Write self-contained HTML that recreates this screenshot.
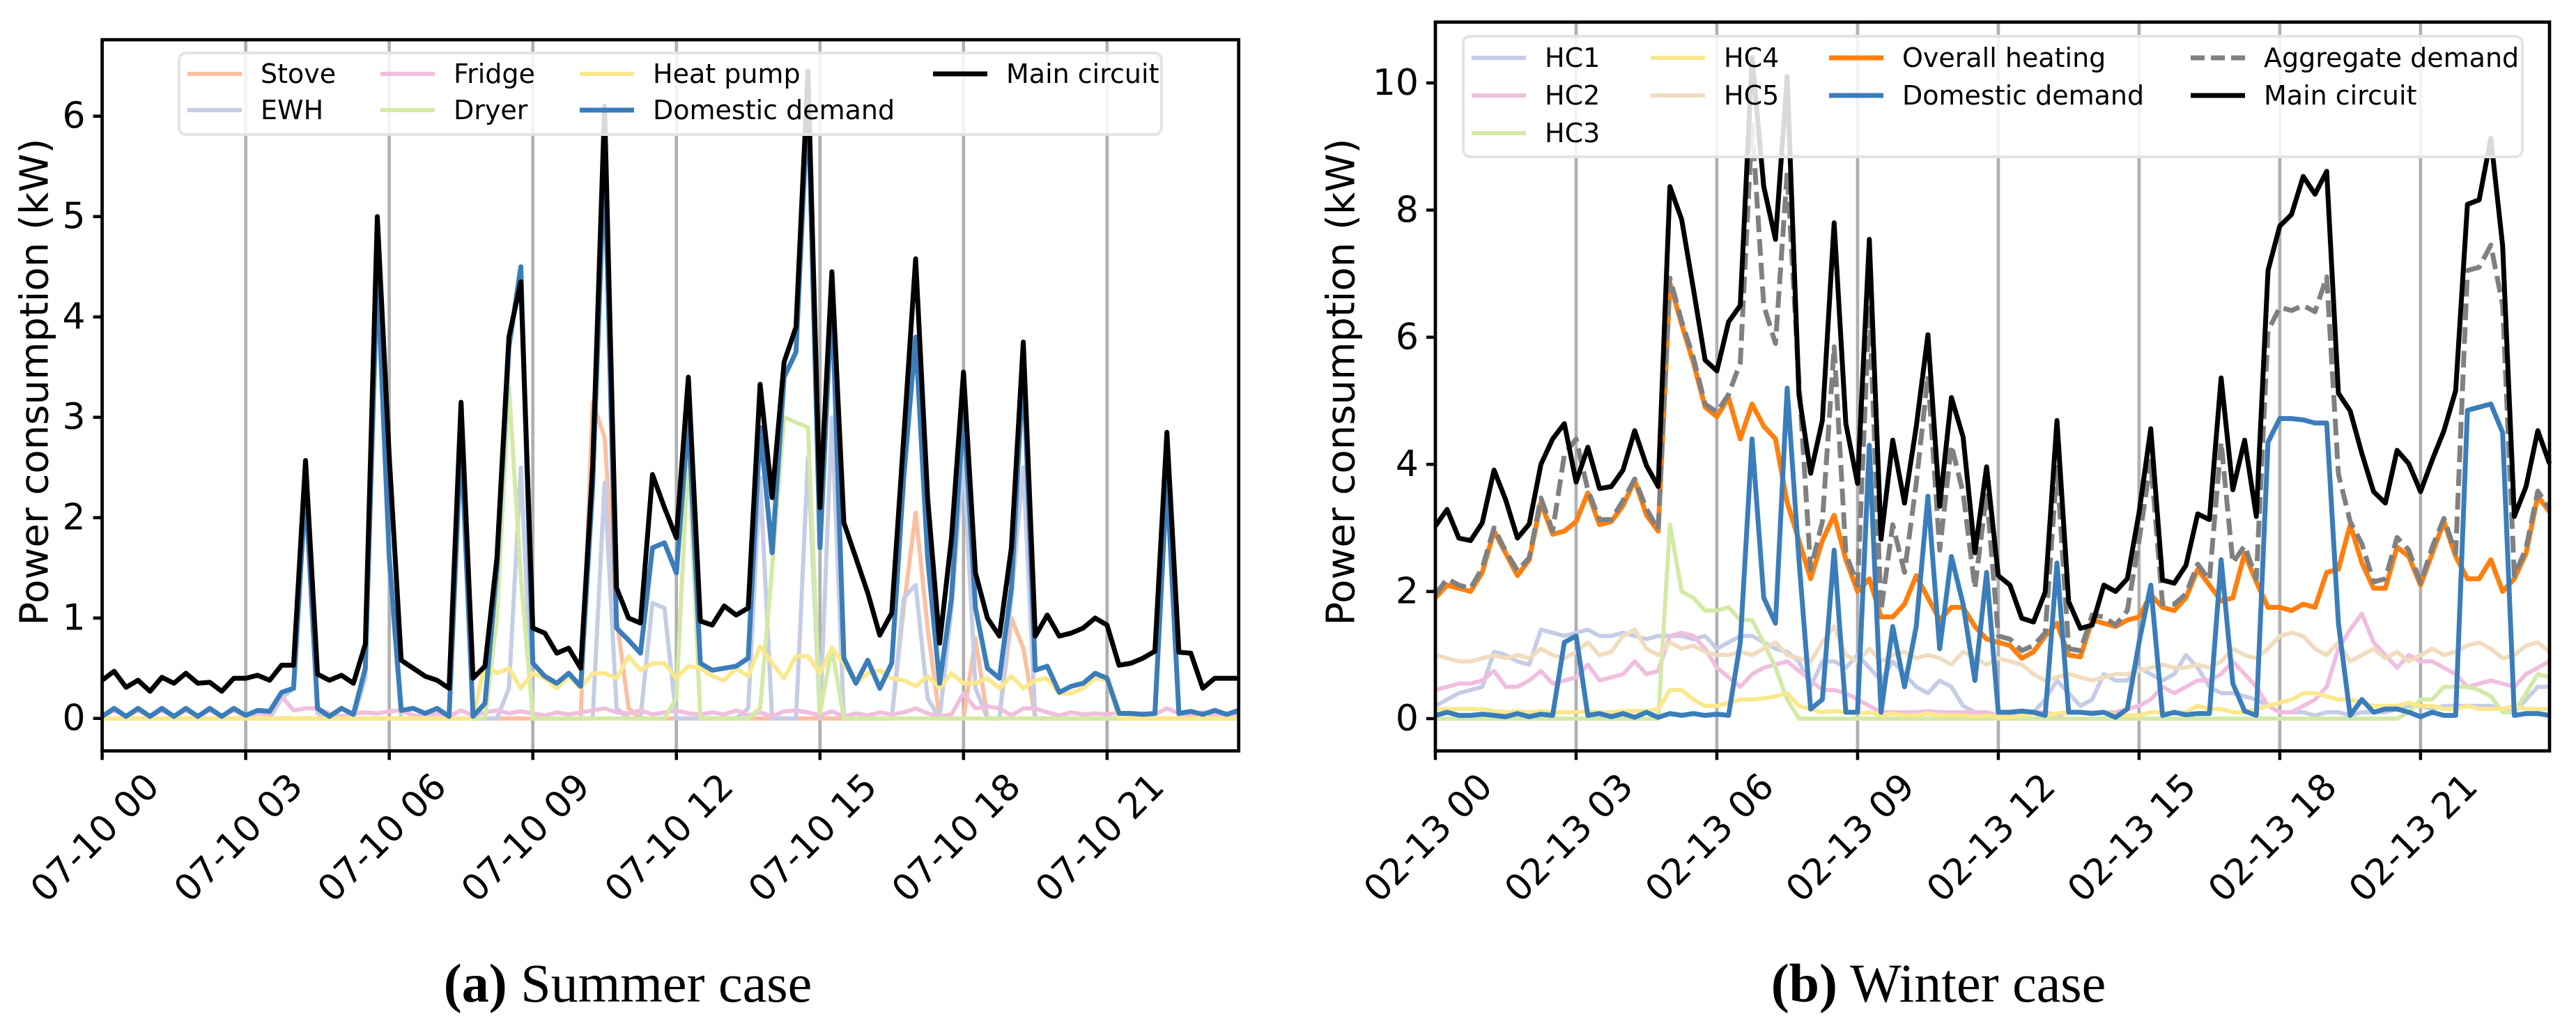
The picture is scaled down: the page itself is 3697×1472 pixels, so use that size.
<!DOCTYPE html>
<html><head><meta charset="utf-8"><style>
html,body{margin:0;padding:0;background:#fff;}
svg{display:block;}
text{font-family:"DejaVu Sans","Liberation Sans",sans-serif;}
.cap{font-family:"Liberation Serif",serif;}
</style></head>
<body>
<svg id="fig" width="3697" height="1472" viewBox="0 0 3697 1472" xmlns="http://www.w3.org/2000/svg">
<rect width="3697" height="1472" fill="#fff"/>
<g id="left"></g>
<g id="right"></g>
<text class="cap" x="901" y="1437" font-size="78" text-anchor="middle"><tspan font-weight="bold">(a)</tspan> Summer case</text>
<text class="cap" x="2782" y="1437" font-size="78" text-anchor="middle"><tspan font-weight="bold">(b)</tspan> Winter case</text>
</svg>
<script>
// ---------- Summer data ----------
const sTickLabels = ["07-10 00","07-10 03","07-10 06","07-10 09","07-10 12","07-10 15","07-10 18","07-10 21"];
const sYTicks = [0,1,2,3,4,5,6];
const sMain = [0.38,0.47,0.31,0.38,0.27,0.41,0.35,0.45,0.35,0.36,0.27,0.4,
0.4,0.43,0.38,0.53,0.53,2.57,0.44,0.38,0.43,0.35,0.74,5.0,
2.6,0.58,0.5,0.42,0.38,0.3,3.15,0.4,0.52,1.6,3.8,4.35,
0.9,0.85,0.65,0.7,0.5,2.5,6.1,1.3,1.0,0.95,2.43,2.1,
1.8,3.4,0.97,0.93,1.12,1.03,1.1,3.33,2.2,3.55,3.9,6.45,
2.1,4.45,1.95,1.6,1.25,0.83,1.05,2.8,4.58,2.2,0.75,1.8,
3.45,1.45,1.0,0.82,1.7,3.75,0.82,1.03,0.82,0.85,0.9,1.0,
0.93,0.53,0.55,0.6,0.67,2.85,0.66,0.65,0.3,0.4,0.4,0.4];
const sDomestic = [0.02,0.1,0.02,0.1,0.02,0.1,0.02,0.1,0.02,0.1,0.02,0.1,
0.03,0.08,0.07,0.26,0.3,2.3,0.1,0.02,0.1,0.04,0.5,4.5,
1.6,0.08,0.1,0.05,0.1,0.02,2.8,0.02,0.15,1.5,3.7,4.5,
0.55,0.42,0.35,0.45,0.32,2.3,5.6,0.9,0.78,0.65,1.7,1.75,
1.45,3.0,0.55,0.48,0.5,0.52,0.6,2.9,1.65,3.4,3.65,6.2,
1.7,4.2,0.6,0.35,0.58,0.3,0.55,2.4,3.8,1.6,0.35,1.2,
3.1,1.1,0.5,0.4,1.3,3.5,0.48,0.52,0.26,0.32,0.35,0.45,
0.4,0.05,0.05,0.04,0.05,2.4,0.05,0.07,0.04,0.08,0.04,0.08];
const sHeatPump = [0,0,0,0,0,0,0,0,0,0,0,0,
0,0,0,0,0,0,0,0,0,0,0,0,
0,0,0,0,0,0,0,0,0.55,0.45,0.5,0.3,
0.45,0.4,0.3,0.42,0.3,0.45,0.45,0.4,0.62,0.48,0.55,0.55,
0.4,0.52,0.5,0.42,0.38,0.5,0.42,0.72,0.55,0.4,0.62,0.62,
0.45,0.7,0.55,0.35,0.45,0.48,0.4,0.38,0.32,0.42,0.3,0.45,
0.35,0.35,0.4,0.3,0.42,0.3,0.38,0.4,0.25,0.25,0.3,0.4,
0.38,0,0,0,0,0,0,0,0,0,0,0];
const sStove = [0,0,0,0,0,0,0,0,0,0,0,0,
0,0,0,0,0,0,0,0,0,0,0,0,
0,0,0,0,0,0,0,0,0,0,0,0,
0,0,0,0,0,3.15,2.8,1.0,0.1,0,0,0,
0,0,0,0,0,0,0,0,0,0,0,0,
0,0,0,0,0,0,0,1.1,2.05,0.9,0,0,
0,0.8,0,0,1.0,0.7,0,0,0,0,0,0,
0,0,0,0,0,0,0,0,0,0,0,0];
const sEWH = [0,0,0,0,0,0,0,0,0,0,0,0,
0,0,0,0.2,0.3,2.2,0.05,0,0,0,0.4,4.3,
1.5,0,0,0,0,0,2.7,0,0,0,0.3,2.5,
0,0,0,0,0,0,2.35,0.1,0,0,1.15,1.1,
0,0,0,0,0,0,0.1,2.4,0,0,0,2.6,
0,3.0,0,0,0,0,0,1.2,1.33,0.2,0,1.1,
2.6,0.3,0,0,1.2,2.5,0,0,0,0,0,0,
0,0,0,0,0,2.3,0,0,0,0,0,0];
const sFridge = [0.02,0.08,0.02,0.08,0.02,0.08,0.02,0.08,0.02,0.08,0.02,0.08,
0.02,0.05,0.04,0.22,0.08,0.1,0.1,0.05,0.02,0.05,0.06,0.05,
0.07,0.08,0.03,0.02,0.05,0.02,0.08,0.03,0.06,0.08,0.05,0.07,
0.05,0.03,0.06,0.04,0.06,0.08,0.1,0.06,0.05,0.08,0.04,0.06,
0.08,0.05,0.04,0.06,0.04,0.08,0.03,0.06,0.02,0.07,0.08,0.06,
0.03,0.07,0.02,0.05,0.03,0.06,0.04,0.06,0.1,0.05,0.02,0.04,
0.25,0.1,0.12,0.1,0.03,0.1,0.1,0.06,0.03,0.06,0.04,0.05,
0.04,0.06,0.03,0.05,0.04,0.1,0.05,0.03,0.06,0.03,0.05,0.03];
const sDryer = [0,0,0,0,0,0,0,0,0,0,0,0,
0,0,0,0,0,0,0,0,0,0,0,0,
0,0,0,0,0,0,0,0,0,1.0,3.3,1.4,
0,0,0,0,0,0,0,0,0,0,0,0,
0.2,2.7,0,0,0,0,0,0.1,1.5,3.0,2.95,2.9,
0.05,0.7,0,0,0,0,0,0,0,0,0,0,
0,0,0,0,0,0,0,0,0,0,0,0,
0,0,0,0,0,0,0,0,0,0,0,0];

// ---------- Winter data ----------
const wTickLabels = ["02-13 00","02-13 03","02-13 06","02-13 09","02-13 12","02-13 15","02-13 18","02-13 21"];
const wYTicks = [0,2,4,6,8,10];
const wMain = [3.03,3.29,2.84,2.8,3.08,3.91,3.44,2.84,3.06,4.0,4.4,4.64,
3.72,4.27,3.62,3.65,3.91,4.53,3.98,3.65,8.37,7.85,6.76,5.64,
5.47,6.24,6.5,10.4,8.37,7.54,10.1,5.1,3.86,4.69,7.8,4.64,
3.7,7.54,2.82,4.38,3.39,4.59,6.04,3.34,5.05,4.43,2.61,3.96,
2.25,2.1,1.58,1.52,1.99,4.69,1.84,1.42,1.47,2.1,2.0,2.2,
3.24,4.56,2.18,2.13,2.41,3.22,3.13,5.36,3.6,4.38,3.18,7.05,
7.75,7.93,8.53,8.25,8.61,5.12,4.84,4.17,3.57,3.39,4.22,4.01,
3.57,4.07,4.53,5.16,8.09,8.16,9.13,7.44,3.18,3.65,4.53,4.01];
const wHeating = [1.9,2.1,2.05,2.0,2.3,2.95,2.6,2.25,2.5,3.4,2.9,2.95,
3.1,3.55,3.05,3.1,3.35,3.75,3.2,2.95,6.85,6.2,5.6,4.9,
4.75,5.05,4.4,4.95,4.6,4.4,3.4,2.8,2.2,2.8,3.2,2.5,
2.0,2.2,1.6,1.6,1.8,2.25,1.9,1.55,1.75,1.75,1.45,1.25,
1.2,1.15,0.95,1.05,1.3,1.5,1.0,0.97,1.55,1.5,1.45,1.55,
1.6,1.95,1.75,1.7,1.9,2.35,2.1,1.85,1.9,2.6,2.15,1.75,
1.75,1.7,1.8,1.75,2.3,2.35,3.05,2.45,2.05,2.05,2.7,2.55,
2.1,2.6,3.1,2.55,2.2,2.2,2.5,2.0,2.2,2.6,3.5,3.25];
const wDomestic = [0.05,0.1,0.05,0.05,0.07,0.05,0.03,0.08,0.03,0.07,0.05,1.2,
1.3,0.05,0.08,0.03,0.08,0.02,0.1,0.02,0.08,0.05,0.08,0.05,
0.07,0.05,1.2,4.4,1.9,1.5,5.2,2.5,0.15,0.3,2.65,0.1,
0.1,4.3,0.1,1.45,0.5,1.45,3.5,1.1,2.55,1.8,0.6,2.3,
0.1,0.1,0.12,0.1,0.05,2.45,0.1,0.1,0.08,0.1,0.02,0.15,
1.2,2.1,0.05,0.1,0.06,0.08,0.08,2.5,0.55,0.12,0.05,4.35,
4.72,4.72,4.7,4.65,4.65,1.5,0.05,0.3,0.1,0.15,0.15,0.1,
0.03,0.1,0.05,0.05,4.85,4.9,4.95,4.5,0.05,0.08,0.08,0.05];
const wAggregate = [1.95,2.2,2.1,2.05,2.37,3.0,2.63,2.33,2.53,3.47,2.95,4.15,
4.4,3.6,3.13,3.13,3.43,3.77,3.3,2.97,6.93,6.25,5.68,4.95,
4.82,5.1,5.6,9.35,6.5,5.9,8.6,5.3,2.35,3.1,5.85,2.6,
2.1,6.5,1.7,3.05,2.3,3.7,5.4,2.65,4.3,3.55,2.05,3.55,
1.3,1.25,1.07,1.15,1.35,3.95,1.1,1.07,1.63,1.6,1.47,1.7,
2.8,4.05,1.8,1.8,1.96,2.43,2.18,4.35,2.45,2.72,2.2,6.1,
6.47,6.42,6.5,6.4,6.95,3.85,3.1,2.75,2.15,2.2,2.85,2.65,
2.13,2.7,3.15,2.6,7.05,7.1,7.45,6.5,2.25,2.68,3.58,3.3];
const wHC1 = [0.2,0.3,0.4,0.45,0.5,1.05,1.0,0.9,0.85,1.4,1.35,1.3,
1.35,1.4,1.3,1.3,1.35,1.3,1.25,1.3,1.3,1.3,1.25,1.3,
1.1,1.2,1.3,1.3,1.2,1.1,1.05,0.9,0.5,0.9,0.9,0.8,
1.0,0.8,0.6,0.9,0.7,0.5,0.4,0.6,0.5,0.2,0.1,0.05,
0.0,0.0,0.05,0.1,0.3,0.6,0.4,0.2,0.3,0.7,0.6,0.6,
0.8,0.7,0.6,0.7,1.0,0.8,0.5,0.4,0.4,0.35,0.3,0.2,
0.1,0.1,0.1,0.05,0.1,0.1,0.05,0.1,0.1,0.1,0.15,0.2,
0.2,0.15,0.2,0.2,0.2,0.2,0.2,0.15,0.1,0.3,0.5,0.5];
const wHC2 = [0.45,0.5,0.55,0.55,0.6,0.75,0.5,0.5,0.6,0.75,0.55,0.6,
0.65,0.85,0.6,0.65,0.7,0.9,0.7,0.75,1.3,1.35,1.3,1.1,
0.8,0.65,0.5,0.7,0.8,0.85,0.9,0.75,0.6,0.45,0.45,0.4,
0.3,0.2,0.1,0.1,0.1,0.1,0.12,0.1,0.1,0.1,0.1,0.1,
0.05,0.05,0.05,0.1,0.1,0.05,0.1,0.1,0.1,0.1,0.1,0.15,
0.2,0.3,0.5,0.4,0.5,0.6,0.6,0.7,0.9,0.7,0.5,0.2,
0.1,0.1,0.2,0.3,0.5,1.1,1.4,1.65,1.2,1.0,0.8,1.0,
0.9,0.9,0.8,0.7,0.5,0.55,0.6,0.55,0.5,0.7,0.8,0.9];
const wHC3 = [0,0,0,0,0,0,0,0,0,0,0,0,
0,0,0,0,0,0,0,0,3.05,2.0,1.9,1.7,
1.7,1.75,1.55,1.55,1.2,0.8,0.3,0,0,0,0,0,
0,0,0,0,0,0,0,0,0,0,0,0,
0,0,0,0,0,0,0,0,0,0,0,0,
0,0,0,0,0,0,0,0,0,0,0,0,
0,0,0,0,0,0,0,0,0,0,0,0.1,
0.3,0.3,0.5,0.5,0.5,0.45,0.35,0.1,0.1,0.4,0.7,0.65];
const wHC4 = [0.15,0.15,0.15,0.15,0.15,0.12,0.1,0.12,0.1,0.12,0.1,0.1,
0.1,0.12,0.1,0.1,0.12,0.12,0.12,0.15,0.45,0.45,0.3,0.2,
0.2,0.25,0.3,0.3,0.32,0.35,0.4,0.2,0.15,0.1,0.12,0.1,
0.08,0.1,0.05,0.08,0.05,0.05,0.08,0.05,0.05,0.05,0.03,0.05,
0.03,0.02,0.05,0.08,0.05,0.08,0.1,0.1,0.08,0.1,0.05,0.05,
0.05,0.1,0.1,0.08,0.1,0.2,0.15,0.15,0.1,0.1,0.15,0.2,
0.25,0.3,0.4,0.4,0.35,0.3,0.3,0.25,0.2,0.2,0.2,0.25,
0.2,0.2,0.15,0.15,0.2,0.15,0.15,0.15,0.2,0.15,0.15,0.15];
const wHC5 = [1.0,0.95,0.9,0.9,0.95,1.0,0.95,1.0,0.95,1.1,1.0,0.95,
1.05,1.2,1.0,1.05,1.3,1.4,1.1,1.0,1.2,1.1,1.15,1.05,
1.0,1.0,1.05,1.0,1.1,1.2,1.0,0.95,0.9,1.2,1.45,1.0,
0.9,1.1,0.9,1.0,1.05,0.95,1.0,0.95,0.85,1.05,0.95,0.85,
0.95,0.9,0.85,0.7,0.6,0.65,0.7,0.65,0.6,0.65,0.7,0.7,
0.75,0.8,0.85,0.8,0.8,0.85,0.8,0.9,1.1,1.0,0.95,1.1,
1.3,1.35,1.3,1.1,1.0,1.2,0.9,1.0,1.1,0.95,1.05,0.9,
1.0,1.1,1.0,1.05,1.15,1.2,1.1,0.95,1.0,1.15,1.2,1.05];

const NS = "http://www.w3.org/2000/svg";
function mk(tag, attrs, parent){
  const e = document.createElementNS(NS, tag);
  for (const k in attrs) e.setAttribute(k, attrs[k]);
  parent.appendChild(e);
  return e;
}

function drawPanel(g, cfg){
  const xS = i => cfg.x0 + i*(cfg.x1-cfg.x0)/95;
  const yS = v => cfg.yZero - v*cfg.yUnit;
  cfg.xLabels.forEach((lab, k) => {
    const x = xS(k*12);
    const gl = mk("line",{x1:x,x2:x,y1:cfg.top,y2:cfg.bottom,stroke:"#b0b0b0","stroke-width":4.7},g);
    
    
    const tk = mk("line",{x1:x,x2:x,y1:cfg.bottom,y2:cfg.bottom+13,stroke:"#000","stroke-width":4.5},g);
    
    
    const t = mk("text",{x:0,y:0,"font-size":52,"text-anchor":"middle","dominant-baseline":"central",transform:`translate(${x-10},${cfg.bottom+125}) rotate(-45)`},g);
    t.textContent = lab;
    
    
  });
  cfg.yTicks.forEach(v => {
    const y = yS(v);
    const tk = mk("line",{x1:cfg.x0-13,x2:cfg.x0,y1:y,y2:y,stroke:"#000","stroke-width":4.5},g);
    
    
    const t = mk("text",{x:cfg.x0-24,y:y,"font-size":52,"text-anchor":"end","dominant-baseline":"central"},g);
    t.textContent = String(v);
    
    
  });
  cfg.series.forEach(s => {
    const pts = s.data.map((v,i)=>xS(i).toFixed(1)+","+yS(v).toFixed(1)).join(" ");
    const attrs = {points:pts,fill:"none",stroke:s.color,"stroke-width":s.w,"stroke-linejoin":"round"};
    if (s.dash) attrs["stroke-dasharray"] = s.dash;
    const p = mk("polyline",attrs,g);
    
    
  });
  const sp = mk("rect",{x:cfg.x0,y:cfg.top,width:cfg.x1-cfg.x0,height:cfg.bottom-cfg.top,fill:"none",stroke:"#000","stroke-width":4.7},g);
  
  
  const yl = mk("text",{x:0,y:0,"font-size":56,"text-anchor":"middle","dominant-baseline":"central",transform:`translate(${cfg.ylabelX},${cfg.ylabelY}) rotate(-90)`},g);
  yl.textContent = "Power consumption (kW)";
  
  
  const L = cfg.legend;
  const lb = mk("rect",{x:L.x,y:L.y,width:L.w,height:L.h,rx:10,fill:"#fff","fill-opacity":0.85,stroke:"#e3e3e3","stroke-width":4},g);
  
  
  L.items.forEach(it => {
    const lx = L.cols[it.c], ly = L.rows[it.r];
    const ln = mk("line",{x1:lx,x2:lx+78,y1:ly,y2:ly,stroke:it.color,"stroke-width":it.w,"stroke-dasharray":it.dash||"none"},g);
    
    
    const t = mk("text",{x:lx+105,y:ly,"font-size":38,"dominant-baseline":"central"},g);
    t.textContent = it.label;
    
    
  });
}

const C = {stove:"#fcbfa0",ewh:"#c5cde6",fridge:"#f0bedf",dryer:"#d3eaa6",hp:"#fbe88c",dom:"#3a7dba",hc5:"#f1dcc0",heat:"#ff7f0e",agg:"#808080"};

drawPanel(document.getElementById("left"),{
  x0:146.6,x1:1777.7,top:57,bottom:1077.3,yZero:1030.7,yUnit:144,
  xLabels:sTickLabels,yTicks:sYTicks,ylabelX:50,ylabelY:548,
  series:[
    {name:"stove-line",data:sStove,color:C.stove,w:6},
    {name:"ewh-line",data:sEWH,color:C.ewh,w:6},
    {name:"fridge-line",data:sFridge,color:C.fridge,w:6},
    {name:"dryer-line",data:sDryer,color:C.dryer,w:6},
    {name:"heat-pump-line",data:sHeatPump,color:C.hp,w:6},
    {name:"domestic-demand-line",data:sDomestic,color:C.dom,w:7},
    {name:"main-circuit-line",data:sMain,color:"#000",w:7}
  ],
  legend:{x:257,y:76,w:1410,h:117,rows:[106,158],cols:[269,546,832,1339],items:[
    {label:"Stove",r:0,c:0,color:C.stove,w:6},
    {label:"EWH",r:1,c:0,color:C.ewh,w:6},
    {label:"Fridge",r:0,c:1,color:C.fridge,w:6},
    {label:"Dryer",r:1,c:1,color:C.dryer,w:6},
    {label:"Heat pump",r:0,c:2,color:C.hp,w:6},
    {label:"Domestic demand",r:1,c:2,color:C.dom,w:7},
    {label:"Main circuit",r:0,c:3,color:"#000",w:7}
  ]}
});

drawPanel(document.getElementById("right"),{
  x0:2060,x1:3659,top:31.7,bottom:1077.3,yZero:1031,yUnit:91.2,
  xLabels:wTickLabels,yTicks:wYTicks,ylabelX:1925,ylabelY:548,
  series:[
    {name:"hc1-line",data:wHC1,color:C.ewh,w:6},
    {name:"hc2-line",data:wHC2,color:C.fridge,w:6},
    {name:"hc3-line",data:wHC3,color:C.dryer,w:6},
    {name:"hc4-line",data:wHC4,color:C.hp,w:6},
    {name:"hc5-line",data:wHC5,color:C.hc5,w:6},
    {name:"overall-heating-line",data:wHeating,color:C.heat,w:7},
    {name:"domestic-demand-line",data:wDomestic,color:C.dom,w:7},
    {name:"aggregate-demand-line",data:wAggregate,color:C.agg,w:7,dash:"24,10"},
    {name:"main-circuit-line",data:wMain,color:"#000",w:7}
  ],
  legend:{x:2100,y:52,w:1520,h:173,rows:[83,137,191],cols:[2112,2369,2625,3144],items:[
    {label:"HC1",r:0,c:0,color:C.ewh,w:6},
    {label:"HC2",r:1,c:0,color:C.fridge,w:6},
    {label:"HC3",r:2,c:0,color:C.dryer,w:6},
    {label:"HC4",r:0,c:1,color:C.hp,w:6},
    {label:"HC5",r:1,c:1,color:C.hc5,w:6},
    {label:"Overall heating",r:0,c:2,color:C.heat,w:7},
    {label:"Domestic demand",r:1,c:2,color:C.dom,w:7},
    {label:"Aggregate demand",r:0,c:3,color:C.agg,w:7,dash:"20,9"},
    {label:"Main circuit",r:1,c:3,color:"#000",w:7}
  ]}
});
</script>
</body></html>
